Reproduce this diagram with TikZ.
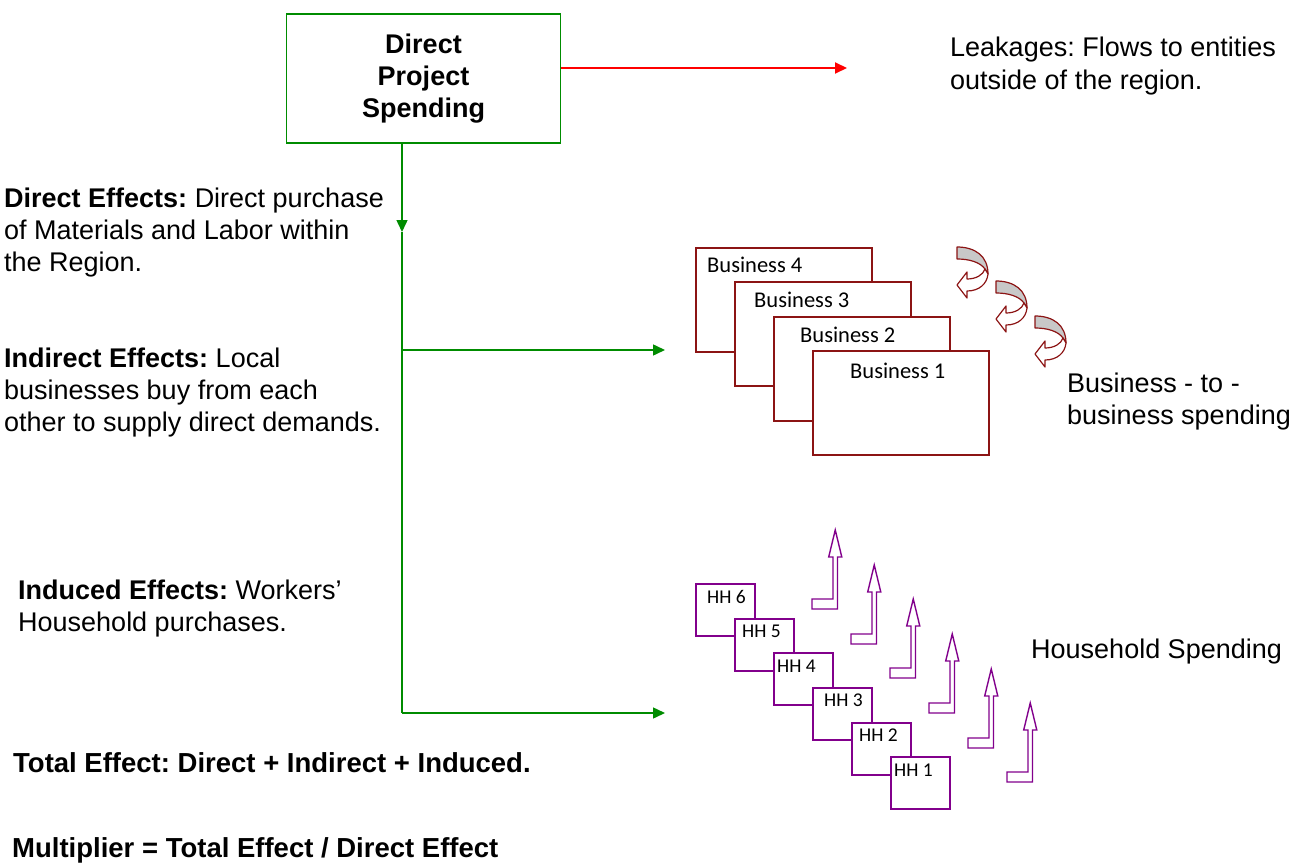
\documentclass[tikz,border=0pt]{standalone}
\usepackage{fontspec}
\setmainfont{Liberation Sans}
\newfontfamily\calfont{Carlito}
\usetikzlibrary{arrows.meta}
\definecolor{gr}{RGB}{0,140,0}
\definecolor{rd}{RGB}{255,0,0}
\definecolor{brn}{RGB}{140,20,20}
\definecolor{pur}{RGB}{130,0,140}
\definecolor{gry}{RGB}{200,200,200}
\tikzset{
  txt/.style={anchor=base west, inner sep=0pt, font=\fontsize{27}{32}\selectfont},
  btxt/.style={txt, font=\fontsize{27.5}{32}\selectfont\bfseries},
  blab/.style={anchor=base west, inner sep=0pt, font=\calfont\fontsize{22.5}{27}\selectfont},
  hlab/.style={anchor=base west, inner sep=0pt, font=\calfont\fontsize{19.5}{23}\selectfont},
  mainbox/.style={draw=gr, line width=1.3pt, minimum width=274pt, minimum height=129pt, align=center, inner sep=0pt,
    font=\fontsize{27}{32}\selectfont\bfseries},
  bbox/.style={draw=brn, fill=white, line width=1.5pt, minimum width=176pt, minimum height=104pt, anchor=north west, inner sep=0pt},
  hbox/.style={draw=pur, fill=white, line width=1.5pt, minimum width=59pt, minimum height=52pt, anchor=north west, inner sep=0pt},
  gline/.style={draw=gr, line width=1.5pt},
  garrow/.style={gline, -{Triangle[length=12pt,width=11pt]}},
  rarrow/.style={draw=rd, line width=2pt, -{Triangle[length=12pt,width=11pt]}},
  curl/.pic={
    \filldraw[draw=brn, fill=gry, line width=1.2pt, line join=round]
      (0,0) .. controls (18,0) and (31,9) .. (31,27) -- (28,22)
      .. controls (23,15) and (12,12) .. (0,12) -- cycle;
    \filldraw[draw=brn, fill=white, line width=1.2pt, line join=round]
      (31,27) .. controls (30,37) and (22,44) .. (10,44) -- (10,51) -- (0,38)
      -- (10,25) -- (10,32) .. controls (19,32) and (26,28) .. (28,22) -- cycle;
  },
  bentup/.pic={
    \filldraw[draw=pur, fill=white, line width=1.4pt]
      (0,0) -- (25.5,0) -- (25.5,-52) -- (29.8,-52) -- (23.25,-79) -- (16.7,-52)
      -- (21,-52) -- (21,-10) -- (0,-10) -- cycle;
  }
}
\begin{document}
\frenchspacing
\begin{tikzpicture}[x=1pt,y=-1pt]
\useasboundingbox (0,0) rectangle (1307,867);

% main box
\node[mainbox] (dps) at (423.5,78.5) {Direct\\Project\\Spending};

% connectors
\coordinate (j1) at (402,232);
\coordinate (j2) at (402,350);
\coordinate (j3) at (402,713);
\coordinate (e2) at (665,350);
\coordinate (e3) at (665,713);
\coordinate (leak) at (847,68);
\draw[rarrow] (dps.east |- leak) -- (leak);
\draw[garrow] (dps.south -| j1) -- (j1);
\draw[gline] (j1) -- (j3);
\draw[garrow] (j2) -- (e2);
\draw[garrow] (j3) -- (e3);

% left texts
\node[txt] (d1) at (4,207) {\textbf{Direct Effects:} Direct purchase};
\node[txt] (d2) at (4,239) {of Materials and Labor within};
\node[txt] (d3) at (4,271) {the Region.};
\node[txt] (i1) at (4,367) {\textbf{Indirect Effects:} Local};
\node[txt] (i2) at (4,399) {businesses buy from each};
\node[txt] (i3) at (4,431) {other to supply direct demands.};
\node[txt] (n1) at (18,599) {\textbf{Induced Effects:} Workers’};
\node[txt] (n2) at (18,631) {Household purchases.};
\node[btxt] (tot) at (13,772) {Total Effect: Direct + Indirect + Induced.};
\node[btxt] (mul) at (12,857) {Multiplier = Total Effect / Direct Effect};

% right texts
\node[txt] (lk1) at (950,57) {Leakages: Flows to entities};
\node[txt] (lk2) at (950,89) {outside of the region.};
\node[txt] (bb1) at (1067,392) {Business - to -};
\node[txt] (bb2) at (1067,424) {business spending};
\node[txt] (hs) at (1031,658) {Household Spending};

% business boxes
\node[bbox] (b4) at (695,247) {};
\node[blab] (l4) at (707,272) {Business 4};
\node[bbox] (b3) at (734,281) {};
\node[blab] (l3) at (754,307) {Business 3};
\node[bbox] (b2) at (773,316) {};
\node[blab] (l2) at (800,342) {Business 2};
\node[bbox] (b1) at (812,350) {};
\node[blab] (l1) at (850,378) {Business 1};

% curled arrows
\pic at (957,247) {curl};
\pic at (996,281) {curl};
\pic at (1035,316) {curl};

% household boxes
\node[hbox] (h6) at (695,583) {};
\node[hlab] (hl6) at (707,603) {HH 6};
\node[hbox] (h5) at (734,618) {};
\node[hlab] (hl5) at (742,637) {HH 5};
\node[hbox] (h4) at (773,652) {};
\node[hlab] (hl4) at (777,672) {HH 4};
\node[hbox] (h3) at (812,687) {};
\node[hlab] (hl3) at (824,706) {HH 3};
\node[hbox] (h2) at (851,722) {};
\node[hlab] (hl2) at (859,741) {HH 2};
\node[hbox] (h1) at (890,756) {};
\node[hlab] (hl1) at (894,776) {HH 1};

% bent-up arrows
\pic at (812,609) {bentup};
\pic at (851,644) {bentup};
\pic at (890,678) {bentup};
\pic at (929,713) {bentup};
\pic at (968,748) {bentup};
\pic at (1007,782) {bentup};
\end{tikzpicture}
\end{document}
